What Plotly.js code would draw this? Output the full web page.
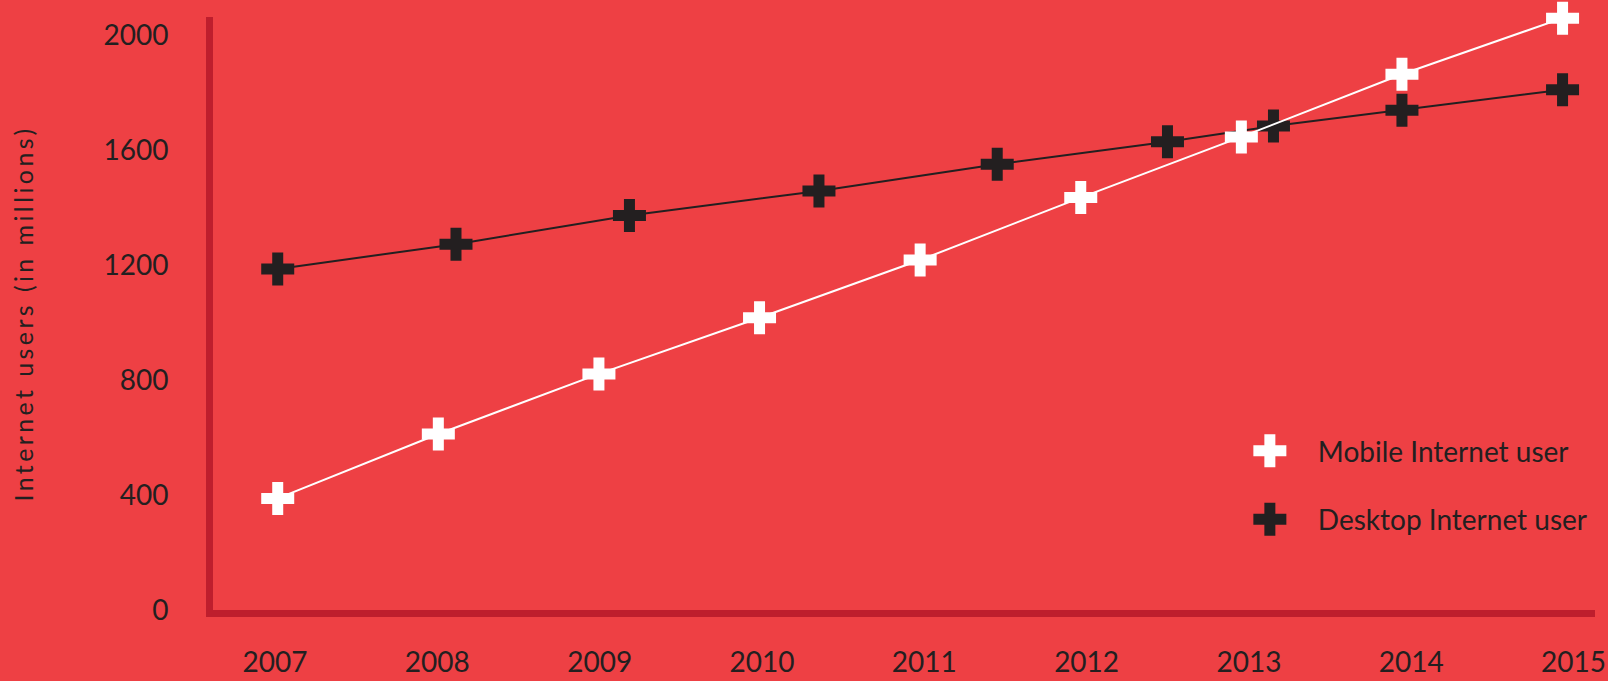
<!DOCTYPE html>
<html>
<head>
<meta charset="utf-8">
<script src="https://cdn.plot.ly/plotly-3.0.1.min.js"></script>
<style>
  html, body { margin: 0; padding: 0; background: #EE4044; }
  #chart { width: 1608px; height: 681px; }
  #chart .ytitle { letter-spacing: 3.4px; }
</style>
</head>
<body>
<div id="chart"></div>
<script>
// ---- data ----
const years = [2007, 2008, 2009, 2010, 2011, 2012, 2013, 2014, 2015];
const tickLabels = ['2007', '2008', '2009', '2010', '2011', '2012', '2013', '2014', '2015'];
const mobileUsers = [388, 612, 821, 1016, 1217, 1434, 1645, 1863, 2058];
const desktopX = [2007.0, 2008.11, 2009.19, 2010.37, 2011.48, 2012.54, 2013.20, 2014.00, 2015.0];
const desktopUsers = [1186, 1272, 1372, 1457, 1550, 1628, 1683, 1738, 1809];
const yTicks = [0, 400, 800, 1200, 1600, 2000];
const seriesNames = ['Mobile Internet user', 'Desktop Internet user'];

// ---- styling ----
const BG = '#EE4044';
const AXIS = '#BE1E2D';
const INK = '#231F20';
const FONT = 'Lato, "Open Sans", sans-serif';
const MSIZE = 27.5;

// label positions drift slightly from the point grid in the reference
const tickPos = years.map((y, i) => y - 0.017 + i * 0.0107);

const traces = [
  {
    x: desktopX, y: desktopUsers, type: 'scatter', mode: 'lines+markers',
    name: seriesNames[1], showlegend: false, cliponaxis: false,
    line: { color: INK, width: 2 },
    marker: { symbol: 'cross', size: MSIZE, color: INK, line: { width: 0 } },
    hoverinfo: 'x+y'
  },
  {
    x: years, y: mobileUsers, type: 'scatter', mode: 'lines+markers',
    name: seriesNames[0], showlegend: false, cliponaxis: false,
    line: { color: '#FFFFFF', width: 2 },
    marker: { symbol: 'cross', size: MSIZE, color: '#FFFFFF', line: { width: 0 } },
    hoverinfo: 'x+y'
  },
  {
    x: [null], y: [null], type: 'scatter', mode: 'markers',
    name: seriesNames[0], legendgroup: 'm', legendrank: 1, showlegend: true,
    marker: { symbol: 'cross', size: MSIZE, color: '#FFFFFF', line: { width: 0 } }
  },
  {
    x: [null], y: [null], type: 'scatter', mode: 'markers',
    name: seriesNames[1], legendgroup: 'd', legendrank: 2, showlegend: true,
    marker: { symbol: 'cross', size: MSIZE, color: INK, line: { width: 0 } }
  }
];

const layout = {
  width: 1608, height: 681,
  paper_bgcolor: BG, plot_bgcolor: BG,
  margin: { l: 213, r: 13, t: 17, b: 71 },
  font: { family: FONT, color: INK, size: 28 },
  showlegend: true,
  legend: {
    x: 0.73, xanchor: 'left', y: 0.31, yanchor: 'top',
    bgcolor: 'rgba(0,0,0,0)', borderwidth: 0,
    font: { family: FONT, size: 28, color: INK },
    itemwidth: 86, tracegroupgap: 29, traceorder: 'grouped',
    itemclick: false, itemdoubleclick: false
  },
  xaxis: {
    range: [2006.597, 2015.202],
    tickmode: 'array', tickvals: tickPos, ticktext: tickLabels,
    showgrid: false, zeroline: false,
    showline: true, linecolor: AXIS, linewidth: 7,
    ticks: 'outside', ticklen: 21, tickcolor: 'rgba(0,0,0,0)',
    tickfont: { family: FONT, size: 28, color: INK },
    fixedrange: true
  },
  yaxis: {
    range: [0, 2062],
    tickmode: 'array', tickvals: yTicks, ticktext: yTicks.map(String),
    showgrid: false, zeroline: false,
    showline: true, linecolor: AXIS, linewidth: 7,
    ticks: 'outside', ticklen: 32, tickcolor: 'rgba(0,0,0,0)',
    tickfont: { family: FONT, size: 28, color: INK },
    title: { text: 'Internet users (in millions)', font: { family: FONT, size: 25, color: INK }, standoff: 65 },
    fixedrange: true
  }
};

function enlargeLegendMarkers() {
  const scale = MSIZE / 16;
  document.querySelectorAll('#chart .legend .legendpoints path.scatterpts').forEach(p => {
    const t = (p.getAttribute('transform') || '').replace(/\s*scale\([^)]*\)/, '');
    p.setAttribute('transform', t + ' scale(' + scale + ')');
  });
}

Plotly.newPlot('chart', traces, layout, { displayModeBar: false }).then(gd => {
  enlargeLegendMarkers();
  gd.on('plotly_afterplot', enlargeLegendMarkers);
});
</script>
</body>
</html>
